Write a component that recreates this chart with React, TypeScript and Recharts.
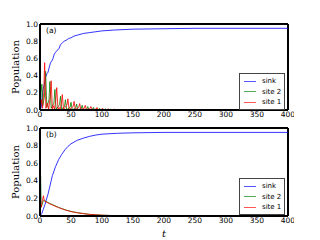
import React from 'react';
import { LineChart, Line, XAxis, YAxis, ReferenceLine } from 'recharts';

// values: [t, population]
const sinkA: [number, number][] = [
  [0, 0], [2, 0.03], [4, 0.2], [5, 0.24], [7, 0.3], [9, 0.38], [11, 0.42], [13, 0.44], [15, 0.5], [17, 0.55],
  [19, 0.57], [21, 0.6], [23, 0.65], [25, 0.67], [27, 0.69], [29, 0.7], [31, 0.72], [33, 0.76], [36, 0.78],
  [39, 0.8], [42, 0.81], [46, 0.83], [50, 0.84], [55, 0.86], [60, 0.87], [70, 0.89], [80, 0.9], [90, 0.91],
  [100, 0.92], [120, 0.93], [150, 0.94], [200, 0.945], [250, 0.95], [300, 0.95], [400, 0.95],
];
const site2A: [number, number][] = [
  [0, 0], [1.5, 0.2], [3, 0.3], [4.5, 0.05], [7, 0.15], [9, 0.45], [11, 0.03], [14.5, 0.12], [16, 0.33], [18, 0.02],
  [22.5, 0.08], [24, 0.24], [26, 0.01], [31.5, 0.06], [33, 0.16], [35, 0.01], [39.5, 0.04], [41, 0.12], [43, 0.005],
  [48.5, 0.03], [50, 0.09], [52, 0.005], [57.5, 0.02], [59, 0.07], [61, 0.004], [66.5, 0.015], [68, 0.055], [70, 0.003],
  [75.5, 0.01], [77, 0.04], [79, 0.002], [85, 0.008], [86, 0.03], [88, 0.002], [95, 0.006], [96, 0.02], [98, 0.002],
  [104, 0.004], [105, 0.015], [107, 0.001], [113, 0.003], [114, 0.01], [116, 0.001], [125, 0], [400, 0],
];
const site1A: [number, number][] = [
  [0, 0], [2, 0.12], [4, 0.02], [6, 0.2], [7.5, 0.55], [9.5, 0.02], [12, 0.08], [14, 0.01], [16.5, 0.15], [18, 0.34],
  [20, 0.01], [22, 0.05], [23.5, 0.01], [25.5, 0.12], [27, 0.26], [29, 0.01], [31, 0.03], [32.5, 0.01], [34.5, 0.08],
  [36, 0.18], [38, 0.005], [43.5, 0.06], [45, 0.13], [47, 0.005], [53.5, 0.04], [55, 0.1], [57, 0.005], [62.5, 0.03],
  [64, 0.075], [66, 0.005], [71.5, 0.02], [73, 0.055], [75, 0.003], [80.5, 0.015], [82, 0.04], [84, 0.003],
  [90.5, 0.01], [92, 0.03], [94, 0.002], [99.5, 0.008], [101, 0.02], [103, 0.002], [109, 0.006], [110, 0.015],
  [112, 0.001], [119, 0.004], [120, 0.01], [122, 0.001], [130, 0], [400, 0],
];

const sinkB: [number, number][] = [
  [0, 0], [3, 0.03], [5, 0.07], [8, 0.13], [10, 0.18], [13, 0.25], [15, 0.31], [18, 0.4], [20, 0.46], [25, 0.56],
  [30, 0.64], [35, 0.7], [40, 0.75], [45, 0.79], [50, 0.82], [60, 0.86], [70, 0.885], [80, 0.905], [90, 0.92],
  [100, 0.93], [125, 0.94], [150, 0.945], [200, 0.95], [400, 0.95],
];
const site2B: [number, number][] = [
  [0, 0.2], [1, 0.45], [2, 0.1], [3, 0.12], [5, 0.17], [7, 0.18], [10, 0.165], [15, 0.145], [20, 0.13], [30, 0.098],
  [40, 0.072], [50, 0.052], [60, 0.038], [70, 0.028], [80, 0.018], [100, 0.009], [130, 0.002], [160, 0], [400, 0],
];
const site1B: [number, number][] = [
  [0, 0.12], [2, 0.1], [4, 0.18], [5.5, 0.23], [7, 0.17], [10, 0.16], [15, 0.14], [20, 0.125], [30, 0.095],
  [40, 0.07], [50, 0.05], [60, 0.037], [70, 0.027], [80, 0.018], [100, 0.009], [130, 0.002], [160, 0], [400, 0],
];

const seriesNames = ['sink', 'site 2', 'site 1'];
const seriesColors = ['#0000ff', '#008000', '#ff0000'];
const legendColors = ['#5555ff', '#55aa55', '#ff5555'];
const xTicks = [0, 50, 100, 150, 200, 250, 300, 350, 400];
const yTicks = [0, 0.2, 0.4, 0.6, 0.8, 1.0];

const toRows = (pts: [number, number][]) => pts.map(([t, v]) => ({ t, v }));

const tickFont = { fontFamily: 'DejaVu Sans', fontSize: 7.5, fill: '#000' };
const frame = { stroke: '#000', strokeWidth: 2 };

function YLabels(props: any) {
  const vb = props.viewBox || { x: 0, y: 0, width: 0, height: 0 };
  const x = vb.x + 15;
  const y = vb.y + vb.height / 2;
  return (
    <g>
      <text x={x} y={y} transform={`rotate(-90, ${x}, ${y})`} textAnchor="middle" dominantBaseline="central"
        fontFamily="DejaVu Serif" fontSize={10} fill="#000">
        Population
      </text>
      <text x={vb.x + vb.width + 6} y={vb.y + 9} fontFamily="DejaVu Sans" fontSize={7.5} fill="#000">{props.tag}</text>
    </g>
  );
}

function TLabel(props: any) {
  const vb = props.viewBox || { x: 0, y: 0, width: 0 };
  return (
    <text x={vb.x + vb.width / 2} y={vb.y + 21} textAnchor="middle" fontFamily="DejaVu Serif" fontStyle="italic"
      fontSize={10} fill="#000">t</text>
  );
}

function LegendBox({ top }: { top: number }) {
  return (
    <div style={{
      position: 'absolute', left: 239, top, width: 46, border: '1px solid #444', background: '#fff',
      padding: '2px 0 1px 4px', fontFamily: 'DejaVu Sans', fontSize: 7, boxSizing: 'border-box',
    }}>
      {seriesNames.map((n, i) => (
        <div key={n} style={{ display: 'flex', alignItems: 'center', height: 10.5 }}>
          <span style={{ display: 'inline-block', width: 12, height: 1, background: legendColors[i], marginRight: 6 }} />
          <span>{n}</span>
        </div>
      ))}
    </div>
  );
}

interface PanelProps {
  sink: [number, number][];
  site2: [number, number][];
  site1: [number, number][];
  tag: string;
  height: number;
  top: number;
  bottomAxis: number;
  showT?: boolean;
}

function Panel({ sink, site2, site1, tag, height, top, bottomAxis, showT }: PanelProps) {
  const series = [sink, site2, site1];
  return (
    <LineChart width={294} height={height} margin={{ top, right: 6, bottom: 0, left: 0 }}>
      <XAxis dataKey="t" type="number" domain={[0, 400]} ticks={xTicks} tickLine={false} tickSize={0} tickMargin={2}
        height={bottomAxis} tick={tickFont} axisLine={frame} allowDataOverflow
        label={showT ? <TLabel /> : undefined} />
      <YAxis domain={[0, 1]} ticks={yTicks} width={40} tickLine={false} tickSize={0} tickMargin={2} tick={tickFont}
        tickFormatter={(v: number) => v.toFixed(1)} axisLine={frame} label={<YLabels tag={tag} />} />
      <ReferenceLine y={1} stroke="#000" strokeWidth={2} />
      <ReferenceLine x={400} stroke="#000" strokeWidth={2} />
      {series.map((s, i) => (
        <Line key={seriesNames[i]} data={toRows(s)} dataKey="v" name={seriesNames[i]} stroke={seriesColors[i]}
          strokeWidth={0.8} dot={false} isAnimationActive={false} />
      ))}
    </LineChart>
  );
}

export default function App() {
  return (
    <div style={{ position: 'absolute', left: 0, top: 0, width: 320, height: 240, background: '#fff' }}>
      <div style={{ position: 'absolute', left: 0, top: 0 }}>
        <Panel sink={sinkA} site2={site2A} site1={site1A} tag="(a)" height={124} top={24} bottomAxis={14} />
      </div>
      <div style={{ position: 'absolute', left: 0, top: 120 }}>
        <Panel sink={sinkB} site2={site2B} site1={site1B} tag="(b)" height={120} top={8} bottomAxis={24} showT />
      </div>
      <LegendBox top={73} />
      <LegendBox top={178} />
    </div>
  );
}
